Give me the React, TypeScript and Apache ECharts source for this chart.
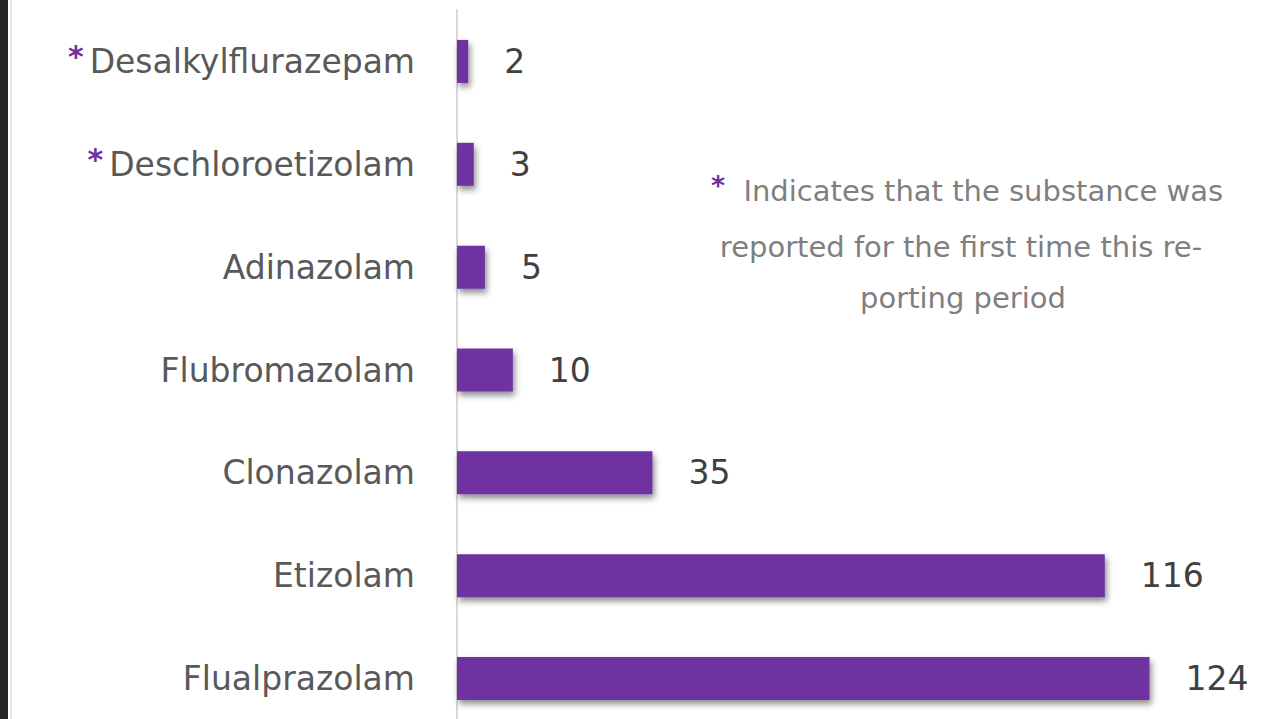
import React, { useEffect, useRef } from "react";
import * as echarts from "echarts";

const categories = [
  "Desalkylflurazepam",
  "Deschloroetizolam",
  "Adinazolam",
  "Flubromazolam",
  "Clonazolam",
  "Etizolam",
  "Flualprazolam",
];
const values = [2, 3, 5, 10, 35, 116, 124];
const firstTime = ["Desalkylflurazepam", "Deschloroetizolam"];
const noteLines = [
  "Indicates that the substance was",
  "reported for the first time this re-",
  "porting period",
];

export default function App() {
  const ref = useRef<HTMLDivElement>(null);
  useEffect(() => {
    if (!ref.current) return;
    const chart = echarts.init(ref.current, undefined, { renderer: "svg" });
    const font = "'DejaVu Sans', 'Open Sans', sans-serif";
    chart.setOption({
      animation: false,
      backgroundColor: "#ffffff",
      grid: { left: 457, right: 83, top: 10, bottom: 10, containLabel: false },
      xAxis: { type: "value", min: 0, max: 130, show: false },
      yAxis: {
        type: "category",
        data: categories,
        inverse: true,
        axisLine: { show: true, lineStyle: { color: "#d9d9d9", width: 2 } },
        axisTick: { show: false },
        splitLine: { show: false },
        axisLabel: {
          margin: 42,
          fontFamily: font,
          fontSize: 33,
          color: "#595959",
          formatter: (v: string) =>
            firstTime.includes(v) ? `{star|*}${v}` : v,
          rich: {
            star: {
              color: "#7030a0",
              fontSize: 30,
              fontWeight: "bold",
              fontFamily: font,
              verticalAlign: "top",
              padding: [0, 6, 10, 0],
            },
          },
        },
      },
      series: [
        {
          type: "bar",
          data: values,
          barWidth: 43,
          itemStyle: {
            color: "#7030a0",
            shadowColor: "rgba(0,0,0,0.45)",
            shadowBlur: 6,
            shadowOffsetX: 2,
            shadowOffsetY: 4,
          },
          label: {
            show: true,
            position: "right",
            distance: 36,
            fontFamily: font,
            fontSize: 33,
            color: "#404040",
          },
        },
      ],
      graphic: [
        { type: "rect", shape: { x: 0, y: 0, width: 8, height: 740 }, style: { fill: "#252525" } },
        { type: "rect", shape: { x: 10, y: 0, width: 2, height: 740 }, style: { fill: "#e6e6e6" } },
        {
          type: "text",
          x: 967,
          y: 191,
          style: {
            text: `{star|*}  ${noteLines[0]}`,
            align: "center",
            verticalAlign: "middle",
            font: `29px ${font}`,
            fill: "#7f7f7f",
            rich: {
              star: { fill: "#7030a0", fontSize: 27, fontWeight: "bold", fontFamily: font, verticalAlign: "top", padding: [0, 0, 12, 0] },
            },
          },
        },
        {
          type: "text",
          x: 961,
          y: 247,
          style: { text: noteLines[1], align: "center", verticalAlign: "middle", font: `29px ${font}`, fill: "#7f7f7f" },
        },
        {
          type: "text",
          x: 963,
          y: 298,
          style: { text: noteLines[2], align: "center", verticalAlign: "middle", font: `29px ${font}`, fill: "#7f7f7f" },
        },
      ],
    });
    return () => chart.dispose();
  }, []);
  return (
    <div style={{ position: "fixed", left: 0, top: 0, width: 1266, height: 719, overflow: "hidden" }}>
      <div ref={ref} style={{ position: "absolute", left: 0, top: 0, width: 1266, height: 740 }} />
    </div>
  );
}
